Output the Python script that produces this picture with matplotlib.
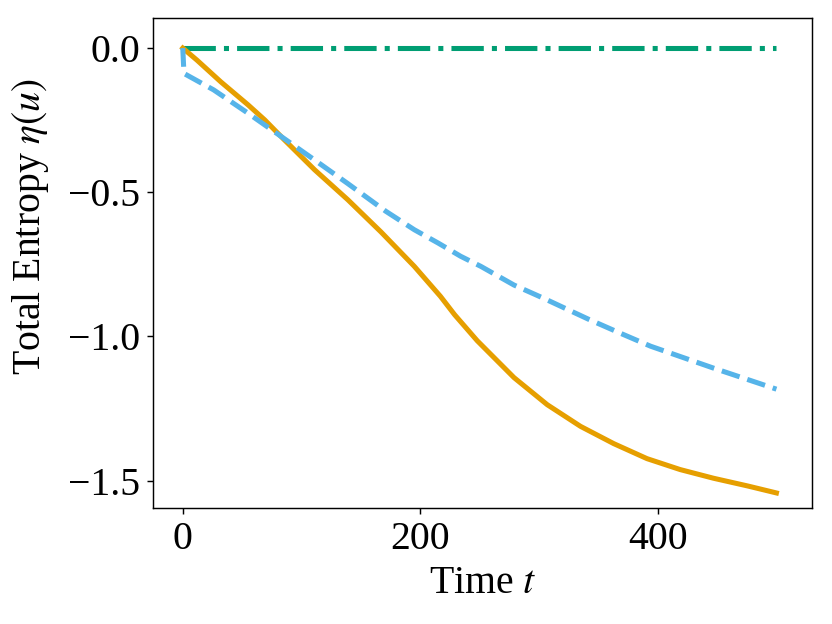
import numpy as np
import matplotlib
matplotlib.use('Agg')
import matplotlib.pyplot as plt

# Total entropy over time
t_orange = [0, 12, 32, 55, 69, 85, 111, 139, 167, 195, 217, 229, 248, 279, 307, 335,
            363, 391, 419, 447, 476, 500]
eta_orange = [0.0, -0.042, -0.117, -0.197, -0.249, -0.316, -0.422, -0.526, -0.638, -0.757,
              -0.861, -0.925, -1.015, -1.143, -1.237, -1.312, -1.372, -1.424, -1.462,
              -1.492, -1.519, -1.543]

t_blue = [0, 1, 26, 55, 83, 111, 139, 171, 195, 215, 234, 251, 279, 304, 342, 368,
          394, 447, 500]
eta_blue = [0.0, -0.088, -0.145, -0.226, -0.307, -0.388, -0.470, -0.566, -0.630, -0.676,
            -0.722, -0.757, -0.822, -0.868, -0.941, -0.988, -1.034, -1.110, -1.183]

t_green = [0, 500]
eta_green = [0.0, 0.0]

plt.rcParams['font.family'] = ['Liberation Serif', 'DejaVu Serif']
plt.rcParams['mathtext.fontset'] = 'stix'

fig = plt.figure(figsize=(6.4, 4.8), dpi=130)
ax = fig.add_axes([0.184, 0.186, 0.792, 0.785])

lw = 2.8
ax.plot(t_green, eta_green, color='#009E73', linestyle='-.', linewidth=lw)
ax.plot(t_orange, eta_orange, color='#E69F00', linestyle='-', linewidth=lw)
ax.plot(t_blue, eta_blue, color='#56B4E9', linestyle='--', linewidth=lw)

ax.set_xlim(-25, 530)
ax.set_ylim(-1.595, 0.104)
ax.set_xticks([0, 200, 400])
ax.set_yticks([0.0, -0.5, -1.0, -1.5])
ax.tick_params(labelsize=22)
ax.set_xlabel('Time $t$', fontsize=22)
ax.set_ylabel(r'Total Entropy $\eta(u)$', fontsize=22)
ax.yaxis.set_label_coords(-0.155, 0.574)

plt.savefig('out.png', dpi=130)
